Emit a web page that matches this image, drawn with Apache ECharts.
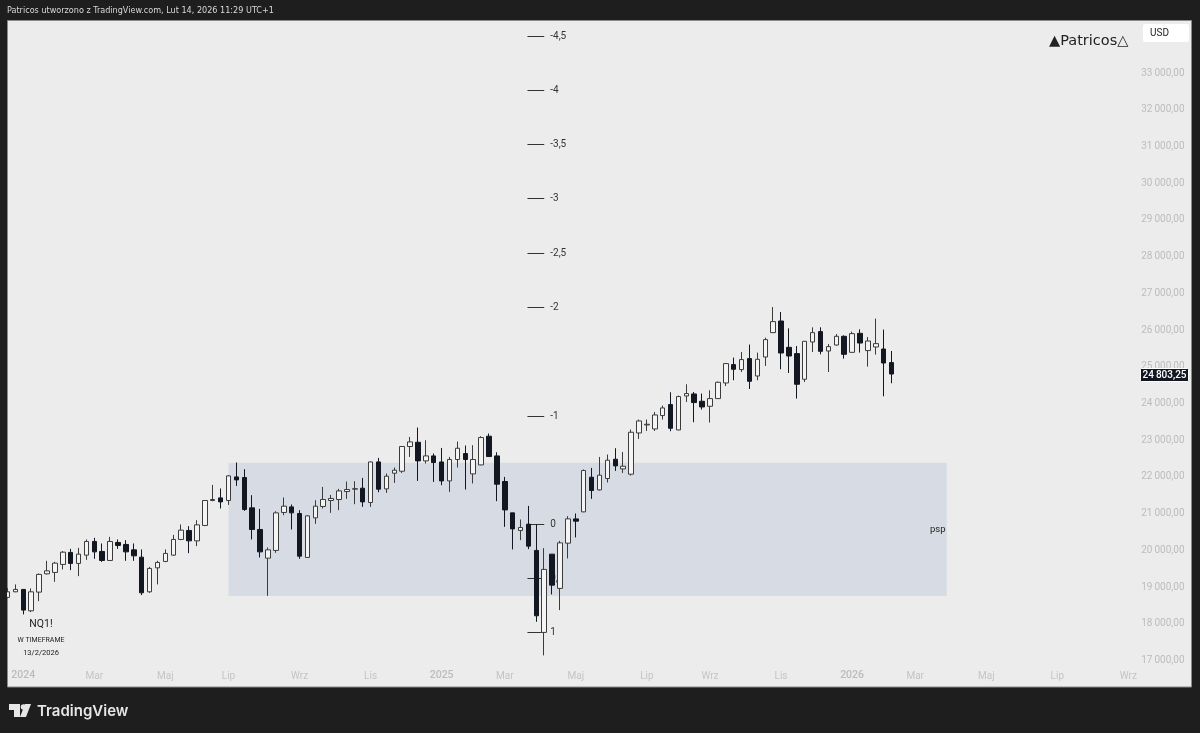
<!DOCTYPE html>
<html><head><meta charset="utf-8">
<style>html,body{margin:0;padding:0;background:#1e1e1e}#c{width:1200px;height:733px}</style>
<script src="https://cdn.jsdelivr.net/npm/echarts@6/dist/echarts.min.js"></script>
</head><body><div id="c"></div>
<script>
// weekly candles: [open, close, low, high]
const candles = [
[18720,18872,18700,18973],[18872,18937,18864,19073],[18937,18374,18257,18946],[18355,18872,18320,18965],
[18864,19346,18619,19373],[19362,19443,19346,19716],[19400,19653,19144,19688],[19618,19952,19482,19980],
[19944,19645,19463,20042],[19645,19898,19299,20069],[19871,20243,19743,20298],[20243,19960,19770,20341],
[19971,19726,19688,20189],[19726,20243,19716,20369],[20216,20135,20042,20298],[20162,19960,19716,20279],
[20015,19852,19716,20189],[19816,18845,18782,20026],[18872,19509,18845,19552],[19525,19672,19073,19716],
[19699,19917,19680,20026],[19871,20298,19852,20423],[20298,20551,20279,20706],[20543,20260,19925,20660],
[20260,20695,20116,20823],[20679,21359,20660,21370],[21359,21386,21340,21783],[21430,21321,21141,21686],
[21359,22029,21239,22048],[22001,21920,21756,22393],[21985,21114,21076,22211],[21158,20570,20298,21503],
[20570,19960,19808,21130],[19789,20015,18763,20080],[19999,21022,19933,21068],[21033,21204,20959,21441],
[21185,21022,20570,21250],[21005,19843,19770,21095],[19808,20940,19797,20959],[20886,21204,20722,21367],
[21196,21386,21141,21729],[21359,21413,21022,21511],[21386,21620,21095,21675],[21604,21658,21403,21876],
[21667,21680,21258,21884],[21694,21321,21185,21974],[21305,22409,21185,22420],[22409,21667,21585,22518],
[21675,22020,21566,22094],[22102,22184,21838,22257],[22156,22829,22110,22837],[22829,22954,22545,23090],
[22945,22437,21892,23345],[22437,22573,22366,23000],[22573,22393,21865,22638],[22409,21892,21775,22790],
[21892,22475,21593,22545],[22475,22782,22257,22965],[22638,22475,21658,22856],[22083,22475,21822,22864],
[22328,23073,22320,23109],[23109,22556,22545,23182],[22573,21803,21340,22673],[21876,21103,20641,22001],
[21022,20586,20026,21022],[20543,20624,20279,20842],[20714,20116,20034,21212],[19999,18219,18056,20706],
[17767,19482,17141,20061],[19898,19054,18801,19898],[18965,20205,18374,20260],[20197,20858,19781,20932],
[20858,20796,20352,21005],[21049,22175,21040,22203],[21993,21631,21403,22246],[21647,22048,21631,22545],
[21958,22456,21849,22611],[22483,22301,22164,22782],[22219,22292,22110,22681],[22075,23217,22039,23291],
[23198,23525,23035,23563],[23416,23435,23253,23563],[23307,23688,23253,23770],[23672,23879,23563,23944],
[23971,23326,23245,24306],[23280,24189,23272,24216],[24205,24271,24042,24524],[24260,24026,23490,24314],
[24061,23906,23835,24271],[23925,24134,23482,24360],[24134,24578,24124,24597],[24559,25087,24477,25103],
[25060,24932,24633,25250],[24924,25196,24858,25402],[25223,24605,24396,25604],[24749,25204,24633,25386],
[25266,25740,25022,25794],[25930,26230,25919,26627],[26246,25375,24932,26491],[25530,25294,24831,26047],
[25359,24524,24134,25566],[24660,25694,24586,25702],[25675,25930,25402,26075],[25958,25421,25340,26075],
[25430,25549,24858,25620],[25593,25830,25577,25892],[25830,25340,25223,25857],[25394,25903,25375,25958],
[25911,25647,25386,26020],[25441,25702,25005,25811],[25539,25631,25332,26311],[25484,25103,24197,26012],
[25114,24803.25,24551,25430]
];
const categoryCount = 151;
const xTickIndex = [2,11,20,28,37,46,55,63,72,81,89,98,107,115,124,133,142];
const xTickLabel = ['2024','Mar','Maj','Lip','Wrz','Lis','2025','Mar','Maj','Lip','Wrz','Lis','2026','Mar','Maj','Lip','Wrz'];
const yTicks = [17000,18000,19000,20000,21000,22000,23000,24000,25000,26000,27000,28000,29000,30000,31000,32000,33000];
const fibLabels = ['1','0,5','0','-1','-2','-2,5','-3','-3,5','-4','-4,5'];
const fibPrices = [17767,19240,20714,23672,26627,28107,29585,31065,32534,34006];
const fibStart = 66, fibEnd = 68;
const pspBox = [28,119,18755,22388];
const lastPrice = 24803.25;

const fmt = v => {
  const s = Math.abs(v).toFixed(2).replace('.', ',');
  const [a,b] = s.split(',');
  return a.slice(0,-3) + '\u2009' + a.slice(-3) + ',' + b;
};
const cats = Array.from({length: categoryCount}, (_, i) => String(i));
const tickMap = new Map(xTickIndex.map((v,i) => [String(v), xTickLabel[i]]));

const chart = echarts.init(document.getElementById('c'), null, {renderer:'canvas'});
chart.setOption({
  animation:false,
  backgroundColor:'#1e1e1e',
  title:{text:'Patricos utworzono z TradingView.com, Lut 14, 2026 11:29 UTC+1',left:7,top:6,padding:0,
    textStyle:{color:'#d8d8d8',fontSize:9,fontWeight:'normal',fontFamily:'"DejaVu Sans Condensed","DejaVu Sans"'}},
  grid:{left:7.5,top:20.5,width:1184,height:666.5,show:true,backgroundColor:'#ececec',borderColor:'#8a8a8a',borderWidth:1},
  xAxis:{type:'category',data:cats,boundaryGap:false,
    axisLine:{show:false},axisTick:{show:false},splitLine:{show:false},
    axisLabel:{inside:true,margin:6,fontSize:10,color:'#c4c4c4',fontFamily:'Roboto',
      interval:(i,v)=>tickMap.has(v),
      formatter:v=>{const t=tickMap.get(v)||'';return /^\d+$/.test(t)?'{y|'+t+'}':t;},
      rich:{y:{fontSize:10.5,fontWeight:500,color:'#bcbcbc',fontFamily:'Roboto'}}}},
  yAxis:{type:'value',position:'right',min:16280,max:34430,
    axisLine:{show:false},axisTick:{show:false},splitLine:{show:false},
    axisLabel:{inside:true,margin:7,fontSize:10,color:'#bcbcbc',fontFamily:'Roboto',
      customValues:yTicks,formatter:fmt}},
  series:[
    {type:'custom',z:1,silent:true,clip:true,
     data:[[pspBox[0],pspBox[2],pspBox[1],pspBox[3]]],encode:{x:[0,2],y:[1,3]},
     renderItem:(p,api)=>{
       const a=api.coord([api.value(0),api.value(1)]),b=api.coord([api.value(2),api.value(3)]);
       return {type:'group',children:[
         {type:'rect',shape:{x:a[0],y:b[1],width:b[0]-a[0],height:a[1]-b[1]},style:{fill:'#d7dce4'}},
         {type:'text',style:{text:'psp',x:b[0]-9,y:(a[1]+b[1])/2,align:'center',verticalAlign:'middle',
           fill:'#222',fontSize:9.5,fontFamily:'Roboto'}}]};
     }},
    {type:'custom',z:2,silent:true,clip:false,
     data:fibPrices.map((v,i)=>[fibStart,v,fibEnd,i]),encode:{x:[0,2],y:1},
     renderItem:(p,api)=>{
       const a=api.coord([api.value(0),api.value(1)]),b=api.coord([api.value(2),api.value(1)]);
       const y=Math.round(a[1])+0.5;
       return {type:'group',children:[
         {type:'line',shape:{x1:a[0]-1,y1:y,x2:b[0],y2:y},style:{stroke:'#333',lineWidth:1}},
         {type:'text',style:{text:fibLabels[api.value(3)],x:b[0]+6,y:y,align:'left',verticalAlign:'middle',
           fill:'#333',fontSize:10,fontFamily:'Roboto'}}]};
     }},
    {type:'candlestick',z:3,data:candles,barWidth:5,silent:true,clip:true,
     itemStyle:{color:'#f4f4f4',color0:'#131722',borderColor:'#3c3c3c',borderColor0:'#131722',borderWidth:1}},
    {type:'custom',z:5,silent:true,clip:false,
     data:[[112,lastPrice]],encode:{x:0,y:1},
     renderItem:(p,api)=>{
       const c=api.coord([api.value(0),api.value(1)]);
       const y=Math.round(c[1])+1;
       return {type:'group',children:[
         {type:'rect',shape:{x:1140.5,y:y-6.5,width:48,height:13,r:1},style:{fill:'#131722',stroke:'#ffffff',lineWidth:1}},
         {type:'text',style:{text:fmt(api.value(1)),x:1164.5,y:y,align:'center',verticalAlign:'middle',
           fill:'#fff',fontSize:10,fontWeight:500,fontFamily:'Roboto'}}]};
     }}
  ],
  graphic:[
    {type:'rect',z:20,silent:true,shape:{x:0,y:20,width:7,height:668},style:{fill:'#1e1e1e'}},
    {type:'rect',z:10,shape:{x:1143,y:24,width:46,height:18,r:2},style:{fill:'#ffffff'}},
    {type:'text',z:11,style:{text:'USD',x:1150,y:33,verticalAlign:'middle',fill:'#222',fontSize:10,fontFamily:'Roboto'}},
    {type:'text',z:11,style:{text:'\u25B2Patricos\u25B3',x:1049,y:41,verticalAlign:'middle',fill:'#222',fontSize:14.5,fontFamily:'DejaVu Sans'}},
    {type:'text',z:11,style:{text:'NQ1!',x:41,y:624,align:'center',verticalAlign:'middle',fill:'#222',fontSize:10.5,fontFamily:'Roboto'}},
    {type:'text',z:11,style:{text:'W TIMEFRAME',x:41,y:640,align:'center',verticalAlign:'middle',fill:'#222',fontSize:7,fontFamily:'Roboto'}},
    {type:'text',z:11,style:{text:'13/2/2026',x:41,y:653,align:'center',verticalAlign:'middle',fill:'#222',fontSize:7.5,fontFamily:'Roboto'}},
    {type:'polygon',z:11,shape:{points:[[9,704],[20,704],[20,717],[14,717],[14,710],[9,710]]},style:{fill:'#e6e6e6'}},
    {type:'circle',z:11,shape:{cx:23.5,cy:707,r:2.8},style:{fill:'#e6e6e6'}},
    {type:'polygon',z:11,shape:{points:[[25,704],[31,704],[26,717],[20,717]]},style:{fill:'#e6e6e6'}},
    {type:'text',z:11,style:{text:'TradingView',x:37,y:711,verticalAlign:'middle',fill:'#e6e6e6',fontSize:15,fontWeight:600,fontFamily:'Inter'}}
  ]
});
</script></body></html>
